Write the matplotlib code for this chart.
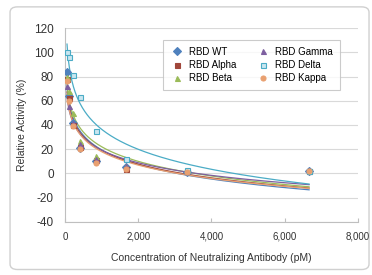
import numpy as np
import matplotlib
matplotlib.use('Agg')
import matplotlib.pyplot as plt
from matplotlib.patches import FancyBboxPatch

plt.rcParams['font.family'] = ['Liberation Sans', 'DejaVu Sans']
plt.rcParams['axes.unicode_minus'] = False

conc = [52, 104, 208, 417, 833, 1667, 3333, 6667]
wt = [84, 64, 42, 21, 10, 5, 1, 2]
alpha = [78, 62, 40, 22, 11, 4, 2, 2]
beta = [80, 68, 50, 27, 14, 6, 2, 3]
gamma = [72, 56, 42, 24, 12, 6, 2, 3]
delta = [100, 96, 81, 63, 35, 12, 3, 2]
kappa = [76, 60, 39, 20, 9, 4, 1, 2]

series = [
    ('RBD WT', wt, 'D', '#4F81BD', '#4F81BD'),
    ('RBD Alpha', alpha, 's', '#A0463A', '#A0463A'),
    ('RBD Beta', beta, '^', '#9BBB59', '#9BBB59'),
    ('RBD Gamma', gamma, '^', '#7D5FA0', '#7D5FA0'),
    ('RBD Delta', delta, 's', '#C9E6F0', '#4BACC6'),
    ('RBD Kappa', kappa, 'o', '#E9A070', '#E9A070'),
]

fig = plt.figure(figsize=(3.72, 2.75), dpi=100)
border = FancyBboxPatch((0.027, 0.02), 0.965, 0.955, boxstyle='round,pad=0,rounding_size=0.02',
                        transform=fig.transFigure, facecolor='white', edgecolor='#D0D0D0',
                        lw=1, zorder=-10)
fig.patches.append(border)
ax = fig.add_axes([0.175, 0.193, 0.787, 0.705])
ax.set_facecolor('none')

x = np.array(conc, dtype=float)
xs = np.linspace(x.min(), x.max(), 300)
for name, vals, mk, fc, ec in series:
    ax.plot(conc, vals, linestyle='none', marker=mk, markersize=3.6,
            markerfacecolor=fc, markeredgecolor=ec, markeredgewidth=0.8, label=name, zorder=3)
    # excel-style logarithmic trendline
    a, b = np.polyfit(np.log(x), vals, 1)
    ax.plot(xs, a * np.log(xs) + b, color=ec, lw=0.9, zorder=2)

ax.set_xlim(0, 8000)
ax.set_ylim(-40, 120)
ax.set_xticks(range(0, 8001, 2000))
ax.set_xticklabels(['0', '2,000', '4,000', '6,000', '8,000'])
ax.set_yticks(range(-40, 121, 20))
ax.yaxis.grid(True, color='#D9D9D9', lw=0.8)
ax.set_axisbelow(True)
for s in ['top', 'right']:
    ax.spines[s].set_visible(False)
for s in ['left', 'bottom']:
    ax.spines[s].set_color('#BFBFBF')
ax.tick_params(axis='y', length=0, pad=8, labelsize=8.5, colors='#333333')
ax.tick_params(axis='x', length=3, direction='in', pad=7, color='#BFBFBF', labelsize=7, colors='#333333')
ax.set_xlabel('Concentration of Neutralizing Antibody (pM)', fontsize=7.5, color='#333333', labelpad=8)
ax.set_ylabel('Relative Activity (%)', fontsize=7.5, color='#333333', labelpad=5)

handles, labels = ax.get_legend_handles_labels()
leg = ax.legend(handles, labels, ncol=2, loc='upper right', bbox_to_anchor=(0.955, 0.965),
                fontsize=7, frameon=True, fancybox=False, edgecolor='#BFBFBF',
                handletextpad=0.5, columnspacing=2.0, labelspacing=0.35, borderpad=0.7,
                handlelength=1.5)
leg.get_frame().set_linewidth(0.8)

fig.savefig('out.png', dpi=100)
